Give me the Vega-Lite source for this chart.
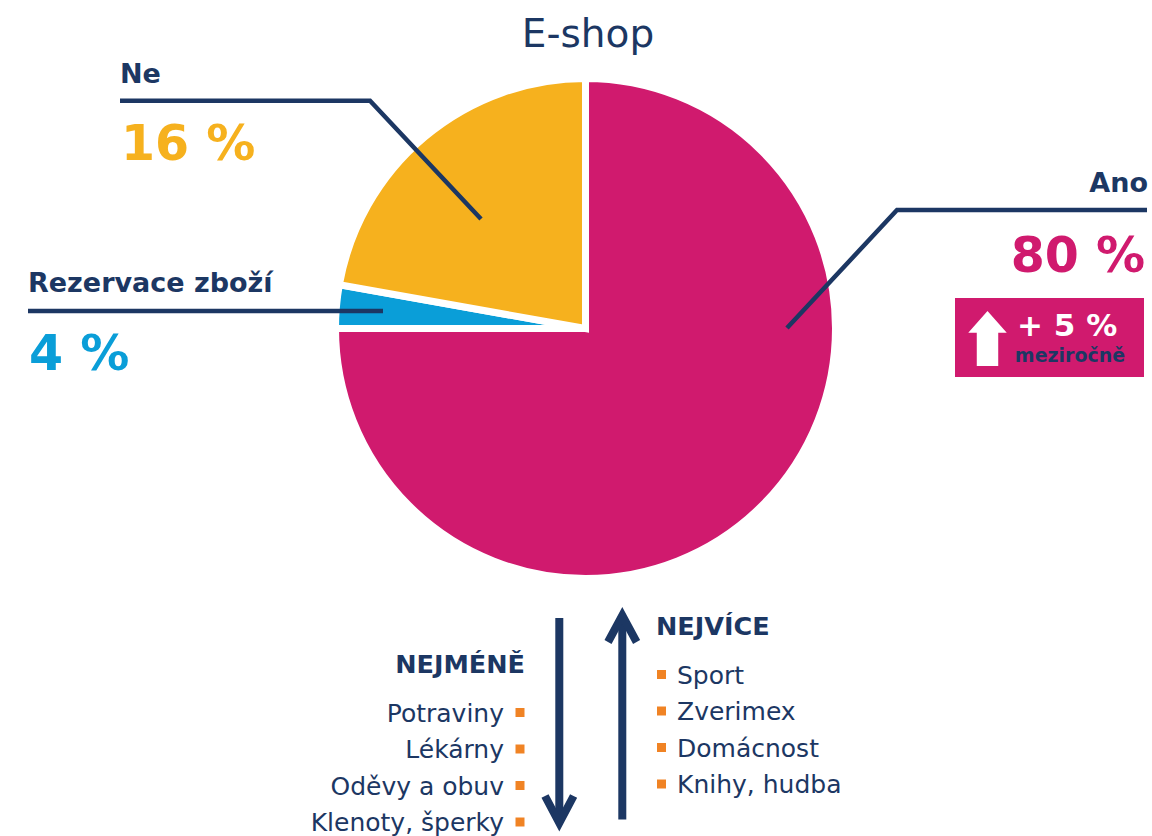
{
  "$schema": "https://vega.github.io/schema/vega-lite/v6.json",
  "width": 1133,
  "height": 657,
  "autosize": {"type": "none"},
  "padding": {"left": 19, "top": 0, "right": 0, "bottom": 179},
  "background": "white",
  "config": {"view": {"stroke": null}, "text": {"font": "DejaVu Sans", "baseline": "alphabetic"}},
  "datasets": {
    "pie": [
      {"cat": "Ano", "share": 75, "rank": 1},
      {"cat": "Rezervace zboží", "share": 2.8, "rank": 2},
      {"cat": "Ne", "share": 22.2, "rank": 3}
    ],
    "leaders": [
      {"id": "Ne", "k": 1, "x": 120, "y": 100.7},
      {"id": "Ne", "k": 2, "x": 370, "y": 100.7},
      {"id": "Ne", "k": 3, "x": 481, "y": 219},
      {"id": "Rez", "k": 1, "x": 28, "y": 311},
      {"id": "Rez", "k": 2, "x": 383, "y": 311},
      {"id": "Ano", "k": 1, "x": 1147, "y": 210},
      {"id": "Ano", "k": 2, "x": 897, "y": 210},
      {"id": "Ano", "k": 3, "x": 787, "y": 328}
    ],
    "arrows": [
      {"id": "downShaft", "k": 1, "x": 559.3, "y": 618},
      {"id": "downShaft", "k": 2, "x": 559.3, "y": 822},
      {"id": "downHead", "k": 1, "x": 545, "y": 796},
      {"id": "downHead", "k": 2, "x": 559.3, "y": 823},
      {"id": "downHead", "k": 3, "x": 573.6, "y": 796},
      {"id": "upShaft", "k": 1, "x": 622.3, "y": 819.5},
      {"id": "upShaft", "k": 2, "x": 622.3, "y": 617},
      {"id": "upHead", "k": 1, "x": 608, "y": 642},
      {"id": "upHead", "k": 2, "x": 622.3, "y": 615.5},
      {"id": "upHead", "k": 3, "x": 636.6, "y": 642}
    ],
    "badge": [{"x": 955, "x2": 1144, "y": 298, "y2": 377}],
    "badgeArrow": [{"x": 987.5, "y": 338.5}],
    "title": [{"t": "E-shop", "x": 588, "y": 47}],
    "labelsL": [
      {"t": "Ne", "x": 120, "y": 83},
      {"t": "Rezervace zboží", "x": 28, "y": 292}
    ],
    "labelsR": [{"t": "Ano", "x": 1148, "y": 192}],
    "numsL": [
      {"t": "16 %", "cat": "Ne", "x": 121, "y": 160},
      {"t": "4 %", "cat": "Rezervace zboží", "x": 29, "y": 370}
    ],
    "numsR": [{"t": "80 %", "cat": "Ano", "x": 1145, "y": 272}],
    "badgeTop": [{"t": "+ 5 %", "x": 1017, "y": 336}],
    "badgeBottom": [{"t": "meziročně", "x": 1070, "y": 362}],
    "headR": [{"t": "NEJVÍCE", "x": 656, "y": 635}],
    "headL": [{"t": "NEJMÉNĚ", "x": 525, "y": 673}],
    "listR": [
      {"t": "Sport", "x": 677, "y": 683.5},
      {"t": "Zverimex", "x": 677, "y": 720},
      {"t": "Domácnost", "x": 677, "y": 756.5},
      {"t": "Knihy, hudba", "x": 677, "y": 793}
    ],
    "listL": [
      {"t": "Potraviny", "x": 504, "y": 721.5},
      {"t": "Lékárny", "x": 504, "y": 758},
      {"t": "Oděvy a obuv", "x": 504, "y": 794.5},
      {"t": "Klenoty, šperky", "x": 504, "y": 831}
    ],
    "bullets": [
      {"x": 661.5, "y": 674.5},
      {"x": 661.5, "y": 711},
      {"x": 661.5, "y": 747.5},
      {"x": 661.5, "y": 784},
      {"x": 520, "y": 712.5},
      {"x": 520, "y": 749},
      {"x": 520, "y": 785.5},
      {"x": 520, "y": 822}
    ]
  },
  "layer": [
    {
      "data": {"name": "pie"},
      "mark": {"type": "arc", "outerRadius": 250, "stroke": "white", "strokeWidth": 7},
      "encoding": {
        "theta": {"field": "share", "type": "quantitative", "stack": true},
        "order": {"field": "rank", "type": "quantitative"},
        "color": {"field": "cat", "type": "nominal", "legend": null,
          "scale": {"domain": ["Ano", "Rezervace zboží", "Ne"], "range": ["#D01A6E", "#0A9ED8", "#F6B11E"]}}
      }
    },
    {
      "encoding": {
        "x": {"field": "x", "type": "quantitative", "scale": {"domain": [19, 1152], "nice": false, "zero": false}, "axis": null},
        "y": {"field": "y", "type": "quantitative", "scale": {"domain": [0, 657], "nice": false, "zero": false, "reverse": true}, "axis": null}
      },
      "layer": [
        {
          "data": {"name": "leaders"},
          "mark": {"type": "line", "color": "#1C3763", "strokeWidth": 4.5, "strokeCap": "butt", "strokeJoin": "miter"},
          "encoding": {"detail": {"field": "id"}, "order": {"field": "k", "type": "quantitative"}}
        },
        {
          "data": {"name": "arrows"},
          "mark": {"type": "line", "color": "#1C3763", "strokeWidth": 8, "strokeCap": "butt", "strokeJoin": "miter"},
          "encoding": {"detail": {"field": "id"}, "order": {"field": "k", "type": "quantitative"}}
        },
        {
          "data": {"name": "badge"},
          "mark": {"type": "rect", "color": "#D01A6E"},
          "encoding": {"x2": {"field": "x2"}, "y2": {"field": "y2"}}
        },
        {
          "data": {"name": "badgeArrow"},
          "mark": {"type": "point", "filled": true, "color": "white", "opacity": 1, "size": 3025,
            "shape": "M0,-1L0.7,-0.21L0.39,-0.21L0.39,1L-0.39,1L-0.39,-0.21L-0.7,-0.21Z"}
        },
        {
          "data": {"name": "title"},
          "mark": {"type": "text", "fontSize": 39, "color": "#1C3763", "align": "center"},
          "encoding": {"text": {"field": "t"}}
        },
        {
          "data": {"name": "labelsL"},
          "mark": {"type": "text", "fontSize": 27, "fontWeight": "bold", "color": "#1C3763", "align": "left"},
          "encoding": {"text": {"field": "t"}}
        },
        {
          "data": {"name": "labelsR"},
          "mark": {"type": "text", "fontSize": 27, "fontWeight": "bold", "color": "#1C3763", "align": "right"},
          "encoding": {"text": {"field": "t"}}
        },
        {
          "data": {"name": "numsL"},
          "mark": {"type": "text", "fontSize": 49, "fontWeight": "bold", "align": "left"},
          "encoding": {"text": {"field": "t"}, "color": {"field": "cat", "type": "nominal", "legend": null}}
        },
        {
          "data": {"name": "numsR"},
          "mark": {"type": "text", "fontSize": 49, "fontWeight": "bold", "align": "right"},
          "encoding": {"text": {"field": "t"}, "color": {"field": "cat", "type": "nominal", "legend": null}}
        },
        {
          "data": {"name": "badgeTop"},
          "mark": {"type": "text", "fontSize": 31, "fontWeight": "bold", "color": "white", "align": "left"},
          "encoding": {"text": {"field": "t"}}
        },
        {
          "data": {"name": "badgeBottom"},
          "mark": {"type": "text", "fontSize": 19, "fontWeight": "bold", "color": "#1C3763", "align": "center"},
          "encoding": {"text": {"field": "t"}}
        },
        {
          "data": {"name": "headR"},
          "mark": {"type": "text", "fontSize": 25.5, "fontWeight": "bold", "color": "#1C3763", "align": "left"},
          "encoding": {"text": {"field": "t"}}
        },
        {
          "data": {"name": "headL"},
          "mark": {"type": "text", "fontSize": 25.5, "fontWeight": "bold", "color": "#1C3763", "align": "right"},
          "encoding": {"text": {"field": "t"}}
        },
        {
          "data": {"name": "listR"},
          "mark": {"type": "text", "fontSize": 25, "color": "#1C3763", "align": "left"},
          "encoding": {"text": {"field": "t"}}
        },
        {
          "data": {"name": "listL"},
          "mark": {"type": "text", "fontSize": 25, "color": "#1C3763", "align": "right"},
          "encoding": {"text": {"field": "t"}}
        },
        {
          "data": {"name": "bullets"},
          "mark": {"type": "square", "size": 81, "color": "#F08324", "opacity": 1}
        }
      ]
    }
  ]
}
